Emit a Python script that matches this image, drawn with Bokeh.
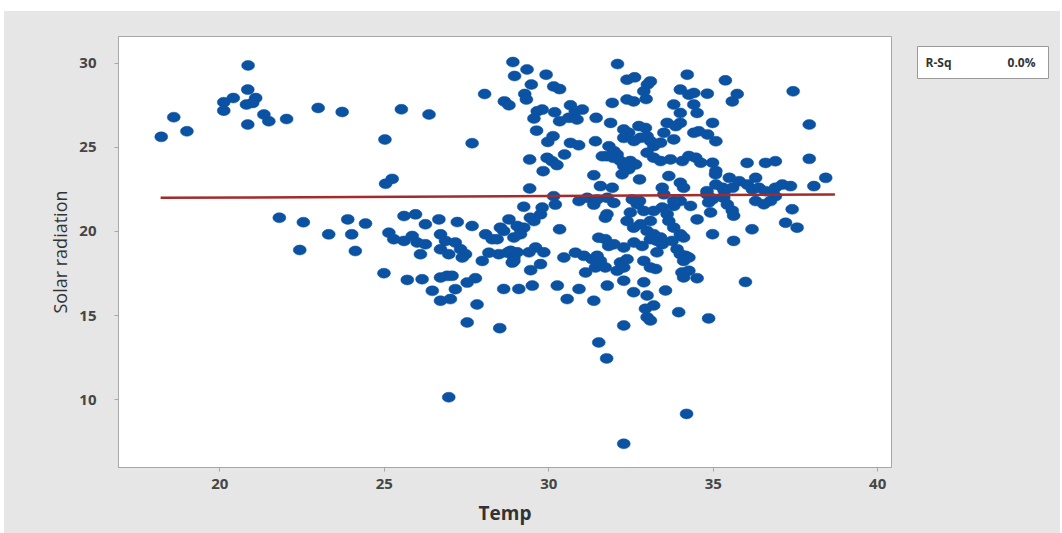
from bokeh.plotting import figure
from bokeh.models import Range1d, FixedTicker, Spacer
from bokeh.layouts import row, column
from bokeh.core.properties import value
from bokeh.embed import file_html
from bokeh.resources import INLINE

# ---------------- data ----------------
temp_left = [20.86, 18.60, 18.22, 19.00, 20.12, 20.41, 20.12, 20.85, 21.09, 20.81, 21.00, 20.85, 21.34, 21.49, 22.03, 22.99, 23.72,
             21.81, 22.54, 23.31, 23.89, 24.01, 24.43, 22.43, 24.12, 24.99,
             25.52, 26.36, 25.02, 27.67, 25.24, 25.04]
solar_left = [29.88, 26.80, 25.63, 25.96, 27.69, 27.94, 27.19, 28.44, 27.94, 27.55, 27.65, 26.36, 26.96, 26.56, 26.69, 27.35, 27.11,
              20.82, 20.55, 19.83, 20.72, 19.83, 20.47, 18.90, 18.84, 17.52,
              27.27, 26.96, 25.47, 25.25, 23.13, 22.84]

temp_outlier = [27.52, 28.51, 26.96, 31.52, 31.76, 32.28, 34.19, 34.86, 35.98]
solar_outlier = [14.59, 14.25, 10.14, 13.40, 12.45, 7.37, 9.15, 14.83, 17.00]

temp_right = [35.37, 37.43, 34.82, 35.73, 35.58, 37.92, 34.83, 35.08, 37.92, 36.03, 36.59, 36.89,
              35.08, 35.29, 35.49, 35.34, 35.59, 35.79, 36.04, 36.29, 36.19, 36.39, 36.59, 36.89, 37.10, 37.35, 38.06, 38.42,
              37.40, 37.20, 37.55, 36.18, 35.62, 35.58, 35.62, 35.32, 35.43, 36.29, 36.54, 36.74, 36.89,
              34.98, 34.92, 34.81, 34.92, 34.98, 34.98, 35.08, 34.98, 35.07]
solar_right = [28.99, 28.34, 28.20, 28.18, 27.74, 26.36, 25.77, 25.37, 24.32, 24.08, 24.08, 24.18,
               22.79, 22.60, 23.19, 22.40, 22.60, 22.99, 22.79, 23.19, 22.50, 22.60, 22.40, 22.60, 22.79, 22.70, 22.70, 23.19,
               21.32, 20.52, 20.23, 20.13, 19.44, 21.24, 20.94, 22.00, 21.60, 21.81, 21.62, 21.81, 22.10,
               21.92, 21.13, 22.40, 22.00, 19.84, 24.09, 23.60, 26.46, 23.40]

temp_core_top = [32.09, 32.38, 32.61, 33.00, 33.09, 34.21, 31.93, 32.38, 32.58, 32.89, 32.96, 34.00, 34.26, 34.41, 33.80, 34.00, 34.41, 34.51,
                 31.44, 31.88, 32.28, 32.43, 32.74, 32.94, 32.99, 32.79, 32.59, 33.09, 33.19, 33.40, 33.60, 33.50, 33.86, 33.80, 34.00, 34.41, 34.56, 32.28]
solar_core_top = [29.96, 29.03, 29.17, 28.74, 28.93, 29.33, 27.65, 27.85, 27.74, 28.34, 27.88, 28.44, 28.14, 28.24, 27.55, 27.05, 27.55, 27.05,
                  26.76, 26.46, 26.07, 25.87, 26.27, 26.16, 25.67, 25.57, 25.38, 25.38, 25.08, 25.28, 26.46, 25.87, 26.27, 25.48, 26.46, 25.87, 25.96, 25.57]

temp_mid_upper = [29.27, 29.32, 28.91, 29.34, 28.96, 29.92, 29.47, 30.15, 30.33, 28.05, 28.65, 28.79,
                  29.65, 29.80, 29.55, 30.18, 30.33, 30.66, 30.81, 31.02, 30.61, 30.86,
                  29.63, 30.13, 29.97, 30.66, 30.91, 31.42, 31.83, 31.98, 31.77, 31.63,
                  29.42, 29.95, 30.10, 30.25, 29.83, 30.48, 31.37, 31.57, 31.93, 29.42,
                  30.15, 30.20, 30.92, 31.17, 31.37, 31.78, 31.98, 29.24, 29.44, 29.75, 29.55, 31.72, 30.33]
solar_mid_upper = [28.18, 27.85, 30.08, 29.64, 29.25, 29.33, 28.74, 28.63, 28.47, 28.18, 27.74, 27.51,
                   27.15, 27.25, 26.72, 27.09, 26.56, 27.51, 27.15, 27.25, 26.76, 26.66,
                   26.00, 25.67, 25.33, 25.27, 25.13, 25.37, 25.07, 24.78, 24.48, 24.48,
                   24.28, 24.38, 24.18, 23.95, 23.59, 24.58, 23.35, 22.70, 22.60, 22.56,
                   22.10, 21.60, 21.81, 22.00, 21.60, 22.00, 21.70, 21.47, 20.82, 21.02, 20.62, 20.82, 20.13]

temp_core_mid = [32.08, 32.18, 31.97, 32.28, 32.48, 32.64, 32.43, 32.23, 32.99, 33.19, 33.40, 33.70, 34.06, 34.26, 34.47, 34.62,
                 33.65, 34.00, 34.10, 32.76, 33.45, 33.50, 32.54, 32.69, 32.89, 33.19, 33.45, 33.60, 33.80, 34.00, 34.31, 34.81, 34.86, 32.76, 33.80, 31.47, 31.77]
solar_core_mid = [24.58, 24.19, 24.38, 23.89, 24.19, 23.99, 23.70, 23.40, 24.68, 24.39, 24.19, 24.29, 24.19, 24.49, 24.39, 24.09,
                  23.30, 22.90, 22.60, 23.10, 22.60, 22.21, 21.91, 21.62, 21.22, 21.22, 21.42, 21.03, 21.52, 21.81, 21.52, 22.21, 21.72, 21.81, 21.81, 21.91, 21.03]

temp_core_low = [32.38, 32.58, 32.79, 33.09, 32.99, 33.19, 33.40, 34.00, 34.10, 33.65, 33.80, 34.51, 32.48, 33.09, 33.29, 33.45, 33.75, 32.84,
                 32.18, 32.38, 32.08, 32.28, 32.89, 33.09, 33.25, 33.90, 34.00, 34.16, 34.26, 34.10, 33.29, 34.05, 34.26, 34.51, 34.10,
                 31.52, 31.72, 31.82, 31.98, 32.59, 32.28, 30.46, 30.81, 31.07, 31.32, 31.47, 31.57, 31.42, 31.12, 31.72]
solar_core_low = [20.62, 20.23, 20.43, 20.62, 20.03, 19.84, 19.64, 19.84, 19.64, 20.62, 20.23, 20.72, 21.13, 19.54, 19.44, 19.24, 19.44, 19.14,
                  18.16, 18.35, 17.66, 17.86, 18.25, 17.86, 17.77, 18.95, 18.65, 18.55, 18.45, 18.25, 18.76, 17.56, 17.66, 17.22, 17.27,
                  19.63, 19.54, 19.14, 19.24, 19.34, 19.05, 18.45, 18.74, 18.55, 18.35, 18.55, 18.25, 17.86, 17.56, 17.86]

temp_mid_lower = [25.60, 25.95, 26.25, 26.66, 27.22, 27.67, 25.14, 25.29, 25.60, 25.85, 26.00, 26.25, 26.71, 26.86, 27.16, 27.32, 26.71, 26.96, 27.47, 26.10, 27.37,
                  28.79, 29.04, 28.63, 28.43, 28.08, 28.28, 28.94, 29.14, 29.24, 29.14, 29.80, 28.53,
                  29.60, 29.85, 29.40, 29.04, 28.84, 28.48, 28.18, 28.74, 28.94, 28.89, 27.98, 28.94, 29.75, 29.45,
                  25.70, 26.15, 26.71, 26.91, 27.06, 26.46, 26.71, 27.01, 27.16, 27.52, 27.77, 27.82]
solar_mid_lower = [20.92, 21.02, 20.43, 20.72, 20.56, 20.33, 19.93, 19.54, 19.44, 19.73, 19.34, 19.24, 19.83, 19.44, 19.34, 18.94, 18.94, 18.65, 18.65, 18.65, 18.45,
                   20.72, 20.33, 20.03, 19.54, 19.83, 19.54, 19.64, 20.13, 20.23, 19.84, 21.42, 20.23,
                   19.05, 18.76, 18.76, 18.76, 18.85, 18.65, 18.74, 18.74, 18.44, 18.15, 18.25, 18.25, 18.06, 17.70,
                   17.12, 17.16, 17.26, 17.36, 17.36, 16.47, 15.88, 15.98, 16.57, 16.96, 17.22, 15.66]

temp_bottom = [28.63, 29.09, 29.50, 30.26, 30.92, 31.78, 32.28, 30.56, 31.37, 32.58, 32.89, 32.99, 33.19, 32.94, 33.55, 32.99, 33.09, 33.95, 32.28]
solar_bottom = [16.58, 16.58, 16.78, 16.78, 16.58, 16.78, 17.07, 15.98, 15.88, 16.39, 16.98, 16.19, 15.60, 15.40, 16.49, 14.90, 14.71, 15.20, 14.41]

# fitted regression line (R-Sq 0.0%)
fit_temp = [18.2, 38.7]
fit_solar = [22.0, 22.2]

x_ticks = [20, 25, 30, 35, 40]
y_ticks = [10, 15, 20, 25, 30]
rsq_label = "R-Sq"
rsq_value = "0.0%"

temp = (temp_left + temp_outlier + temp_right + temp_core_top + temp_mid_upper +
        temp_core_mid + temp_core_low + temp_mid_lower + temp_bottom)
solar = (solar_left + solar_outlier + solar_right + solar_core_top + solar_mid_upper +
         solar_core_mid + solar_core_low + solar_mid_lower + solar_bottom)
assert len(temp) == len(solar)

# ---------------- main figure ----------------
BG = "#e6e6e6"
FRAME = "#a8a8a8"

p = figure(width=901, height=522, output_backend="svg", toolbar_location=None,
           x_range=Range1d(16.92, 40.42), y_range=Range1d(5.96, 31.6),
           min_border_left=114, min_border_right=14, min_border_top=25, min_border_bottom=66)
p.border_fill_color = BG
p.background_fill_color = "white"
p.outline_line_color = FRAME
p.outline_line_width = 1
p.xgrid.visible = False
p.ygrid.visible = False

p.xaxis.ticker = FixedTicker(ticks=x_ticks)
p.yaxis.ticker = FixedTicker(ticks=y_ticks)
for ax in (p.xaxis[0], p.yaxis[0]):
    ax.axis_line_color = FRAME
    ax.major_tick_line_color = FRAME
    ax.major_tick_out = 4
    ax.major_tick_in = 0
    ax.minor_tick_line_color = None
    ax.major_label_text_font = "Open Sans"
    ax.major_label_text_font_size = "15px"
    ax.major_label_text_font_style = "bold"
    ax.major_label_text_color = "#454545"
    ax.axis_label_text_font = "Open Sans"
    ax.axis_label_text_color = "#333333"

p.xaxis.major_label_standoff = 7
p.yaxis.major_label_standoff = 18
p.xaxis.axis_label = "Temp"
p.xaxis.axis_label_text_font_size = "19px"
p.xaxis.axis_label_text_font_style = "bold"
p.xaxis.axis_label_standoff = 8
p.yaxis.axis_label = "Solar radiation"
p.yaxis.axis_label_text_font_size = "18px"
p.yaxis.axis_label_text_font_style = "normal"
p.yaxis.axis_label_standoff = 4

p.ellipse(temp, solar, width=13, height=10, width_units="screen", height_units="screen",
          fill_color="#0b52a3", line_color="#0b52a3", line_width=0.5)
p.line(fit_temp, fit_solar, line_color="#a52a2a", line_width=2.5)

# ---------------- R-Sq box panel (its frame is aligned with the main frame: 431 px tall) ----------------
q = figure(width=155, height=522, output_backend="svg", toolbar_location=None, title=None,
           x_range=Range1d(0, 155), y_range=Range1d(0, 431),
           x_axis_location=None, y_axis_location=None, min_border=0)
q.border_fill_color = BG
q.background_fill_color = BG
q.outline_line_color = None
q.grid.visible = False
q.quad(left=[12], right=[143], top=[421], bottom=[389],
       fill_color="white", line_color="#9a9a9a", line_width=1)
q.text(x=[20], y=[405], text=[rsq_label], text_baseline="middle", text_align="left",
       text_font=value("Open Sans"), text_font_size="12px", text_font_style="bold", text_color="#333333")
q.text(x=[130], y=[405], text=[rsq_value], text_baseline="middle", text_align="right",
       text_font=value("Open Sans"), text_font_size="12px", text_font_style="bold", text_color="#333333")

layout = column(Spacer(width=1060, height=11),
                row(Spacer(width=4, height=522),
                    row(p, q, styles={"background-color": BG})))

open("out.html", "w").write(file_html(layout, INLINE))
